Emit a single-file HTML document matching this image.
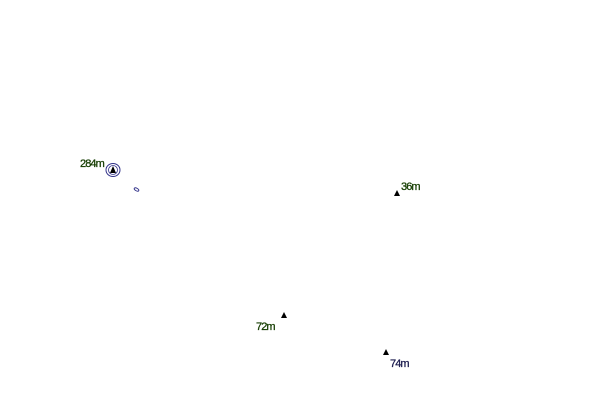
<!DOCTYPE html>
<html><head><style>html,body{margin:0;padding:0;background:#fff;width:601px;height:400px;overflow:hidden}</style></head>
<body>
<svg width="601" height="400" xmlns="http://www.w3.org/2000/svg" style="font-family:'Liberation Sans',sans-serif;font-size:11px">
<rect width="601" height="400" fill="#fff"/>
<ellipse cx="113" cy="170" rx="7" ry="6.5" fill="none" stroke="#33338a" stroke-width="1"/>
<ellipse cx="113" cy="170" rx="4.5" ry="4.5" fill="none" stroke="#33338a" stroke-width="0.8"/>
<polygon points="113,166 116,173 110,173" fill="#000"/>
<ellipse cx="136.5" cy="189.5" rx="2.5" ry="1.3" transform="rotate(30 136.5 189.5)" fill="none" stroke="#33338a" stroke-width="1"/>
<g stroke-width="0.3">
<text x="80" y="167" fill="#153d00" stroke="#153d00" letter-spacing="-0.9">284m</text>
<text x="401" y="190" fill="#153d00" stroke="#153d00" letter-spacing="-0.9">36m</text>
<text x="256" y="330" fill="#153d00" stroke="#153d00" letter-spacing="-0.9">72m</text>
<text x="390" y="367" fill="#1a1a4d" stroke="#1a1a4d" letter-spacing="-0.9">74m</text>
</g>
<polygon points="397,190 400,196 394,196" fill="#000"/>
<polygon points="284,312 287,318 281,318" fill="#000"/>
<polygon points="386,349 389,355 383,355" fill="#000"/>
</svg>
</body></html>
